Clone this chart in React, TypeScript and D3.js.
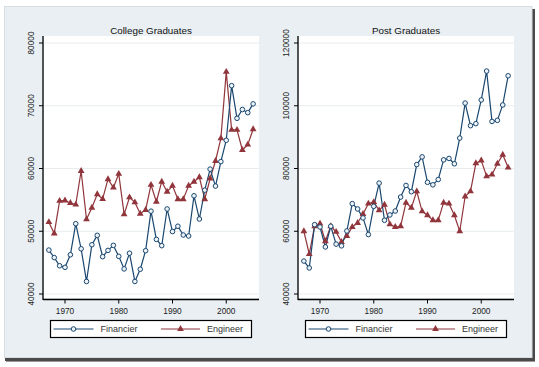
import React from "react";
import * as d3 from "d3";

const years = [1967, 1968, 1969, 1970, 1971, 1972, 1973, 1974, 1975, 1976, 1977, 1978, 1979, 1980, 1981, 1982, 1983, 1984, 1985, 1986, 1987, 1988, 1989, 1990, 1991, 1992, 1993, 1994, 1995, 1996, 1997, 1998, 1999, 2000, 2001, 2002, 2003, 2004, 2005];

const collegeFinancier = [47000, 45800, 44500, 44250, 46250, 51200, 47200, 42000, 47850, 49350, 45950, 46950, 47750, 46000, 44000, 46500, 42000, 43950, 46900, 53200, 48700, 47700, 53550, 49950, 50800, 49400, 49250, 55650, 51950, 56550, 59900, 57200, 61100, 64500, 73200, 68000, 69400, 68900, 70300];
const collegeEngineer = [51450, 49650, 54850, 54900, 54500, 54250, 59600, 51900, 53750, 55900, 55150, 58300, 56950, 59150, 52700, 55400, 54600, 52800, 53400, 57400, 54700, 57900, 56300, 57250, 55100, 55100, 57250, 57900, 58600, 55100, 58400, 61200, 64800, 75400, 66150, 66150, 62950, 63800, 66250];
const postFinancier = [50500, 48300, 62100, 61350, 55000, 61600, 55900, 55350, 60100, 68800, 67100, 64250, 58950, 67950, 75350, 63500, 65200, 66450, 70900, 74600, 72600, 81250, 83700, 75600, 74800, 76500, 82750, 83200, 81500, 89700, 100850, 93650, 94300, 101850, 111050, 95000, 95350, 100250, 109550];
const postEngineer = [60000, 52700, 61600, 62450, 56800, 61600, 59800, 56600, 58500, 61350, 62650, 65500, 68800, 69300, 66650, 68450, 62200, 61350, 61600, 69100, 67500, 72700, 66350, 65100, 63500, 63500, 69100, 68800, 65100, 60000, 71100, 72700, 81700, 82550, 77500, 78050, 81500, 84400, 80300];

const xTicks = [1970, 1980, 1990, 2000];
const collegeYTicks = [40000, 50000, 60000, 70000, 80000];
const postYTicks = [40000, 60000, 80000, 100000, 120000];
const seriesNames = ["Financier", "Engineer"];

const BLUE = "#1a476f";
const RED = "#90353b";
const FONT = "'Liberation Sans', Arial, sans-serif";

type PanelProps = {
  title: string;
  left: number;
  yDomain: [number, number];
  yTicks: number[];
  fin: number[];
  eng: number[];
};

function Panel({ title, left, yDomain, yTicks, fin, eng }: PanelProps) {
  const plotW = 215;
  const x = d3.scaleLinear().domain([1966, 2006]).range([left + 0.5, left + 0.5 + plotW]);
  const y = d3.scaleLinear().domain(yDomain).range([294, 43]);
  const axisX = left;
  const plotTop = 36;
  const plotBottom = 298;
  const axisY = 299.5;
  const right = left + 216;
  const line = d3
    .line<number>()
    .x((_, i) => x(years[i]))
    .y((d) => y(d));
  const tri = d3.symbol(d3.symbolTriangle, 20)() as string;
  const cx = (left + right) / 2;
  const lgX = cx - 100.5;
  return (
    <g>
      <rect x={left + 1} y={plotTop} width={right - left - 1} height={plotBottom - plotTop} fill="#ffffff" />
      {yTicks.map((t) => (
        <line key={"g" + t} x1={left + 1} x2={right} y1={y(t)} y2={y(t)} stroke="#e8ecee" strokeWidth={1} />
      ))}
      <text x={cx} y={34} textAnchor="middle" fontFamily={FONT} fontSize={9.8} fill="#111">
        {title}
      </text>
      <path d={line(eng) || ""} fill="none" stroke={RED} strokeWidth={1.2} />
      <path d={line(fin) || ""} fill="none" stroke={BLUE} strokeWidth={1.2} />
      {eng.map((v, i) => (
        <path key={"e" + i} d={tri} transform={`translate(${x(years[i])},${y(v)})`} fill={RED} />
      ))}
      {fin.map((v, i) => (
        <circle key={"f" + i} cx={x(years[i])} cy={y(v)} r={2.3} fill="#eef3f7" stroke={BLUE} strokeWidth={1} />
      ))}
      <line x1={axisX} x2={axisX} y1={plotTop} y2={axisY + 0.5} stroke="#000" strokeWidth={1.3} />
      <line x1={axisX} x2={right} y1={axisY} y2={axisY} stroke="#000" strokeWidth={1.3} />
      {yTicks.map((t) => (
        <g key={"yt" + t}>
          <line x1={axisX - 4} x2={axisX} y1={y(t)} y2={y(t)} stroke="#000" strokeWidth={1} />
          <text
            transform={`translate(${axisX - 11.5},${y(t)}) rotate(-90)`}
            dy="0.35em"
            textAnchor="middle"
            fontFamily={FONT}
            fontSize={8.3}
            fill="#222"
          >
            {t}
          </text>
        </g>
      ))}
      {xTicks.map((t) => (
        <g key={"xt" + t}>
          <line x1={x(t)} x2={x(t)} y1={axisY} y2={axisY + 4} stroke="#000" strokeWidth={1} />
          <text x={x(t)} y={313.5} textAnchor="middle" fontFamily={FONT} fontSize={8.3} fill="#222">
            {t}
          </text>
        </g>
      ))}
      <rect x={lgX} y={320.5} width={201} height={17} fill="#ffffff" stroke="#000" strokeWidth={1.2} />
      <line x1={lgX + 3} x2={lgX + 43} y1={329} y2={329} stroke={BLUE} strokeWidth={1.2} />
      <circle cx={lgX + 23} cy={329} r={2.3} fill="#eef3f7" stroke={BLUE} strokeWidth={1} />
      <text x={lgX + 50} y={332.3} fontFamily={FONT} fontSize={9} fill="#333">
        {seriesNames[0]}
      </text>
      <line x1={lgX + 110.5} x2={lgX + 149.5} y1={329} y2={329} stroke={RED} strokeWidth={1.2} />
      <path d={tri} transform={`translate(${lgX + 130},${329})`} fill={RED} />
      <text x={lgX + 156.5} y={332.3} fontFamily={FONT} fontSize={9} fill="#333">
        {seriesNames[1]}
      </text>
    </g>
  );
}

export default function App() {
  return (
    <div style={{ position: "absolute", left: 0, top: 0 }}>
      <svg width={539} height={367} style={{ display: "block" }}>
        <rect x={0} y={0} width={539} height={367} fill="#ffffff" />
        <rect x={6} y={9} width={529} height={353} fill="#9a9a9a" />
        <rect x={5} y={9} width={530} height={352} fill="#4a4a4a" />
        <rect x={4.5} y={6.5} width={527.5} height={351} fill="#e9eff3" stroke="#d6dde1" strokeWidth={1} />
        <Panel title="College Graduates" left={43} yDomain={[40000, 80000]} yTicks={collegeYTicks} fin={collegeFinancier} eng={collegeEngineer} />
        <Panel title="Post Graduates" left={298} yDomain={[40000, 120000]} yTicks={postYTicks} fin={postFinancier} eng={postEngineer} />
      </svg>
    </div>
  );
}
